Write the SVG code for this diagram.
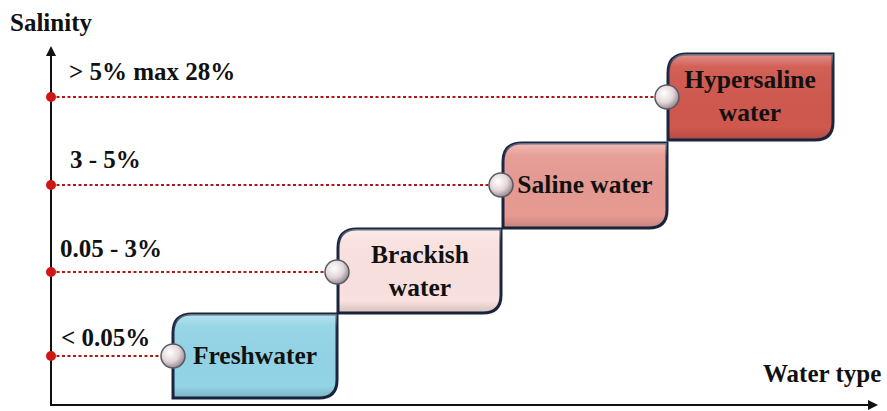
<svg xmlns="http://www.w3.org/2000/svg" width="887" height="411" viewBox="0 0 887 411">
<defs>
<style>
.t{font-family:"Liberation Serif","Times New Roman",serif;font-weight:bold;fill:#111;}
.lbl{font-size:25px;}
.bt{font-size:25.5px;text-anchor:middle;}
.box{stroke:#1b2540;stroke-width:3;}
.dot{stroke:#b01818;stroke-width:2;stroke-dasharray:3,2.5;fill:none;}
.ax{stroke:#111;stroke-width:2;fill:none;}
.sph{fill:url(#sg);stroke:#555a66;stroke-width:1.5;}
</style>
<radialGradient id="sg" cx="0.38" cy="0.35" r="0.7">
<stop offset="0" stop-color="#ffffff"/>
<stop offset="0.55" stop-color="#e4d6d8"/>
<stop offset="1" stop-color="#8c8088"/>
</radialGradient>
<linearGradient id="hl" x1="0" y1="0" x2="0" y2="1">
<stop offset="0" stop-color="#fff" stop-opacity="0.35"/>
<stop offset="0.15" stop-color="#fff" stop-opacity="0.05"/>
<stop offset="0.85" stop-color="#000" stop-opacity="0"/>
<stop offset="1" stop-color="#000" stop-opacity="0.15"/>
</linearGradient>
<marker id="ah" markerWidth="10" markerHeight="10" refX="8" refY="5" orient="auto" markerUnits="userSpaceOnUse">
<path d="M0,0 L10,5 L0,10 Z" fill="#111"/>
</marker>
</defs>
<rect width="887" height="411" fill="#fff"/>
<g id="axes">
<line class="ax" x1="51" y1="405" x2="51" y2="48" marker-end="url(#ah)"/>
<line class="ax" x1="50" y1="405" x2="876" y2="405" marker-end="url(#ah)"/>
<text class="t" x="10" y="31" font-size="25">Salinity</text>
<text class="t" x="763" y="382" font-size="25">Water type</text>
</g>
<g id="connectors">
<line class="dot" x1="51" y1="97" x2="656" y2="97"/>
<line class="dot" x1="51" y1="185" x2="490" y2="185"/>
<line class="dot" x1="51" y1="272" x2="326" y2="272"/>
<line class="dot" x1="51" y1="356" x2="162" y2="356"/>
<circle cx="51" cy="97" r="5" fill="#d01515"/>
<circle cx="51" cy="185" r="5" fill="#d01515"/>
<circle cx="51" cy="272" r="5" fill="#d01515"/>
<circle cx="51" cy="356" r="5" fill="#d01515"/>
</g>
<g id="levels">
<text class="t lbl" x="69" y="80">&gt; 5% max 28%</text>
<text class="t lbl" x="70" y="168">3 - 5%</text>
<text class="t lbl" x="60" y="257">0.05 - 3%</text>
<text class="t lbl" x="61" y="346">&lt; 0.05%</text>
</g>
<g id="freshwater">
<path class="box" fill="#92d4e6" d="M173,333 Q173,314 192,314 H337 V380 Q337,398 319,398 H173 Z"/>
<path fill="url(#hl)" d="M173,333 Q173,314 192,314 H337 V380 Q337,398 319,398 H173 Z"/>
<circle class="sph" cx="173" cy="356" r="12"/>
<text class="t bt" x="255" y="364">Freshwater</text>
</g>
<g id="brackish">
<path class="box" fill="#f9e1df" d="M338,248 Q338,229 357,229 H501 V295 Q501,313 483,313 H338 Z"/>
<path fill="url(#hl)" d="M338,248 Q338,229 357,229 H501 V295 Q501,313 483,313 H338 Z"/>
<circle class="sph" cx="337" cy="272" r="12"/>
<text class="t bt" x="420" y="263">Brackish</text>
<text class="t bt" x="420" y="296">water</text>
</g>
<g id="saline">
<path class="box" fill="#e69a92" d="M503,162 Q503,143 522,143 H667 V210 Q667,228 649,228 H503 Z"/>
<path fill="url(#hl)" d="M503,162 Q503,143 522,143 H667 V210 Q667,228 649,228 H503 Z"/>
<circle class="sph" cx="501" cy="185" r="12"/>
<text class="t bt" x="585" y="193">Saline water</text>
</g>
<g id="hypersaline">
<path class="box" fill="#d0584e" d="M668,73 Q668,54 687,54 H833 V122 Q833,140 815,140 H668 Z"/>
<path fill="url(#hl)" d="M668,73 Q668,54 687,54 H833 V122 Q833,140 815,140 H668 Z"/>
<circle class="sph" cx="667" cy="97" r="12"/>
<text class="t bt" x="750" y="88">Hypersaline</text>
<text class="t bt" x="750" y="121">water</text>
</g>
</svg>
